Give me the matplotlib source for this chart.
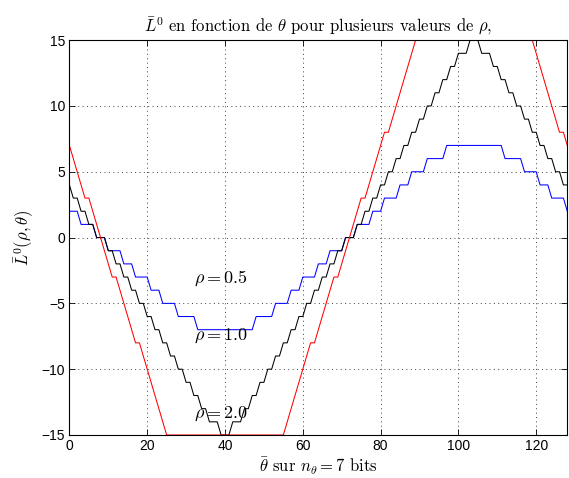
import numpy as np
import matplotlib
matplotlib.use("Agg")
import matplotlib.pyplot as plt

# quantised values, one per integer theta (0..128)
theta = np.arange(129)

L_rho05 = [2, 2, 2, 1, 1, 1, 1, 0, 0, 0,
           -1, -1, -1, -1, -2, -2, -2, -3, -3, -3,
           -3, -4, -4, -4, -5, -5, -5, -5, -6, -6,
           -6, -6, -6, -7, -7, -7, -7, -7, -7, -7,
           -7, -7, -7, -7, -7, -7, -7, -7, -6, -6,
           -6, -6, -6, -5, -5, -5, -5, -4, -4, -4,
           -3, -3, -3, -3, -2, -2, -2, -1, -1, -1,
           -1, 0, 0, 0, 1, 1, 1, 1, 2, 2,
           2, 3, 3, 3, 3, 4, 4, 4, 5, 5,
           5, 5, 6, 6, 6, 6, 6, 7, 7, 7,
           7, 7, 7, 7, 7, 7, 7, 7, 7, 7,
           7, 7, 6, 6, 6, 6, 6, 5, 5, 5,
           5, 4, 4, 4, 3, 3, 3, 3, 2]

L_rho10 = [4, 3, 3, 2, 2, 1, 1, 0, 0, 0,
           -1, -1, -2, -2, -3, -3, -4, -4, -5, -5,
           -6, -6, -7, -7, -8, -8, -9, -9, -10, -10,
           -11, -11, -12, -12, -13, -13, -14, -14, -14, -15,
           -15, -15, -14, -14, -14, -13, -13, -12, -12, -11,
           -11, -10, -10, -9, -9, -8, -8, -7, -7, -6,
           -6, -5, -5, -4, -4, -3, -3, -2, -2, -1,
           -1, 0, 0, 0, 1, 1, 2, 2, 3, 3,
           4, 4, 5, 5, 6, 6, 7, 7, 8, 8,
           9, 9, 10, 10, 11, 11, 12, 12, 13, 13,
           14, 14, 14, 15, 15, 15, 14, 14, 14, 13,
           13, 12, 12, 11, 11, 10, 10, 9, 9, 8,
           8, 7, 7, 6, 6, 5, 5, 4, 4]

L_rho20 = [7, 6, 5, 4, 3, 3, 2, 1, 0, -1,
           -2, -3, -3, -4, -5, -6, -7, -8, -8, -9,
           -10, -11, -12, -13, -14, -15, -15, -15, -15, -15,
           -15, -15, -15, -15, -15, -15, -15, -15, -15, -15,
           -15, -15, -15, -15, -15, -15, -15, -15, -15, -15,
           -15, -15, -15, -15, -15, -15, -14, -13, -12, -11,
           -10, -9, -8, -8, -7, -6, -5, -4, -3, -3,
           -2, -1, 0, 1, 2, 3, 3, 4, 5, 6,
           7, 8, 8, 9, 10, 11, 12, 13, 14, 15,
           15, 15, 15, 15, 15, 15, 15, 15, 15, 15,
           15, 15, 15, 15, 15, 15, 15, 15, 15, 15,
           15, 15, 15, 15, 15, 15, 15, 15, 15, 15,
           14, 13, 12, 11, 10, 9, 8, 8, 7]

labels = [r"$\rho = 0.5$", r"$\rho = 1.0$", r"$\rho = 2.0$"]
label_pos = [(32, -3.4), (32, -7.8), (32, -13.7)]

plt.rcParams['mathtext.fontset'] = 'cm'
plt.rcParams['font.family'] = ['Liberation Sans', 'DejaVu Sans']
plt.rcParams['axes.unicode_minus'] = True

fig = plt.figure(figsize=(5.69, 4.78), dpi=100)
ax = fig.add_axes([0.122, 0.090, 0.875, 0.826])

ax.plot(theta, L_rho05, color='b', lw=0.75)
ax.plot(theta, L_rho10, color='k', lw=0.75)
ax.plot(theta, L_rho20, color='r', lw=0.75)

for s, (x, y) in zip(labels, label_pos):
    ax.text(x, y, s, fontsize=13)

ax.set_xlim(0, 128)
ax.set_ylim(-15, 15)
ax.set_xticks([0, 20, 40, 60, 80, 100, 120])
ax.set_yticks([-15, -10, -5, 0, 5, 10, 15])
ax.tick_params(direction='in', top=True, right=True, length=4, width=0.6,
               labelsize=10, pad=3)
ax.grid(True, color='0.25', lw=0.7, linestyle=(0, (1, 3.5)))
for sp in ax.spines.values():
    sp.set_linewidth(0.8)

ax.set_title(r"$\bar{L}^0$ en fonction de $\theta$ pour plusieurs valeurs de $\rho$,",
             fontfamily='cmr10', fontsize=12, pad=6)
ax.set_xlabel(r"$\bar{\theta}$ sur $n_\theta = 7$ bits", fontfamily='cmr10',
              fontsize=12, labelpad=2)
ax.set_ylabel(r"$\bar{L}^0(\rho,\theta)$", fontsize=12, labelpad=4)

fig.savefig("out.png", dpi=100)
